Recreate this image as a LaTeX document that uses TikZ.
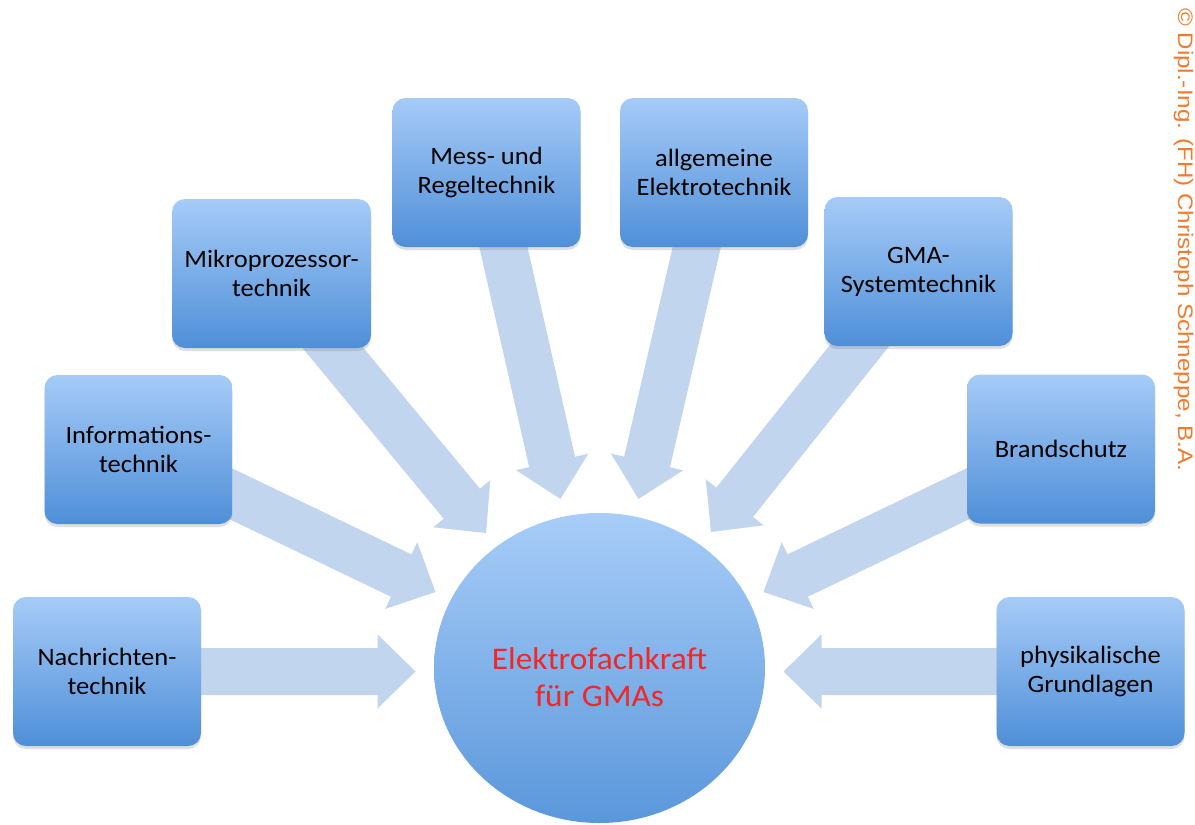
\documentclass[tikz,border=0pt]{standalone}
\usepackage{fontspec}
\setmainfont{Carlito}[FakeStretch=1.06]
\newfontfamily\wmfont{Liberation Sans}
\usetikzlibrary{calc,shadows,shapes.geometric}
\definecolor{boxtop}{HTML}{A6CBF7}
\definecolor{boxbot}{HTML}{4F8FD8}
\definecolor{circtop}{HTML}{A8CDF8}
\definecolor{circbot}{HTML}{5A97DB}
\definecolor{arrowcol}{HTML}{C2D5EF}
\definecolor{captred}{HTML}{F02828}
\definecolor{wmorange}{HTML}{F27A2C}
\pgfdeclarelayer{bglayer}
\pgfdeclarelayer{arrowlayer}
\pgfsetlayers{bglayer,arrowlayer,main}
\tikzset{
  topicbox/.style={rectangle, rounded corners=13pt, minimum width=188pt, minimum height=149pt,
    inner sep=0pt, top color=boxtop, bottom color=boxbot, align=center,
    font=\fontsize{25}{29}\selectfont, text=black,
    drop shadow={shadow xshift=0pt, shadow yshift=-3pt, opacity=0.25}},
  goal/.style={ellipse, minimum width=331pt, minimum height=310pt, inner sep=0pt,
    top color=circtop, bottom color=circbot},
  goaltext/.style={align=center, font=\fontsize{31.5}{37}\selectfont, text=captred},
  blockarr/.style={fill=arrowcol},
  watermark/.style={font=\wmfont\fontsize{21}{21}\selectfont, text=wmorange, inner sep=0pt}
}
\newcommand\blockarrow[2]{%
  \coordinate (hb) at ($(#2)!38pt!(#1.center)$);
  \fill[blockarr] ($(#1.center)!23.5pt!90:(#2)$) -- ($(hb)!23.5pt!90:(#2)$)
    -- ($(hb)!37pt!90:(#2)$) -- (#2) -- ($(hb)!37pt!-90:(#2)$)
    -- ($(hb)!23.5pt!-90:(#2)$) -- ($(#1.center)!23.5pt!-90:(#2)$) -- cycle;
}
\begin{document}
\begin{tikzpicture}[x=1pt,y=-1pt]
\useasboundingbox (0,0) rectangle (1195,825);
\begin{pgfonlayer}{bglayer}
  \fill[white] (0,0) rectangle (1195,825);
\end{pgfonlayer}

% central goal
\node[goal] (goal) at (599.5,668) {};
\node[goaltext] (goallabel) at (599.5,677) {Elektrofachkraft\\für GMAs};

% topic boxes
\node[topicbox] (b1) at (107,671.5) {Nachrichten-\\technik};
\node[topicbox] (b2) at (138.5,449.5) {Informations-\\technik};
\node[topicbox, minimum width=199pt] (b3) at (271.5,273.5) {Mikroprozessor-\\technik};
\node[topicbox] (b4) at (486.5,172.5) {Mess- und\\Regeltechnik};
\node[topicbox] (b5) at (714,172.5) {allgemeine\\Elektrotechnik};
\node[topicbox] (b6) at (918.5,271.5) {GMA-\\Systemtechnik};
\node[topicbox] (b7) at (1061,449) {Brandschutz};
\node[topicbox] (b8) at (1090.5,671.5) {physikalische\\Grundlagen};

% arrow tips
\coordinate (t1) at (415.5,671.5);
\coordinate (t2) at (435.5,592);
\coordinate (t3) at (486,533);
\coordinate (t4) at (560.5,499);
\coordinate (t5) at (638.5,499);
\coordinate (t6) at (711,532);
\coordinate (t7) at (763.5,592);
\coordinate (t8) at (783.5,671.5);

\begin{pgfonlayer}{arrowlayer}
  \blockarrow{b1}{t1}
  \blockarrow{b2}{t2}
  \blockarrow{b3}{t3}
  \blockarrow{b4}{t4}
  \blockarrow{b5}{t5}
  \blockarrow{b6}{t6}
  \blockarrow{b7}{t7}
  \blockarrow{b8}{t8}
\end{pgfonlayer}

% watermark
\node[watermark, rotate=-90, anchor=base west] (wm) at (1178,8)
  {\scalebox{1.15}[1]{© Dipl.-Ing. (FH) Christoph Schneppe, B.A.}};
\end{tikzpicture}
\end{document}
